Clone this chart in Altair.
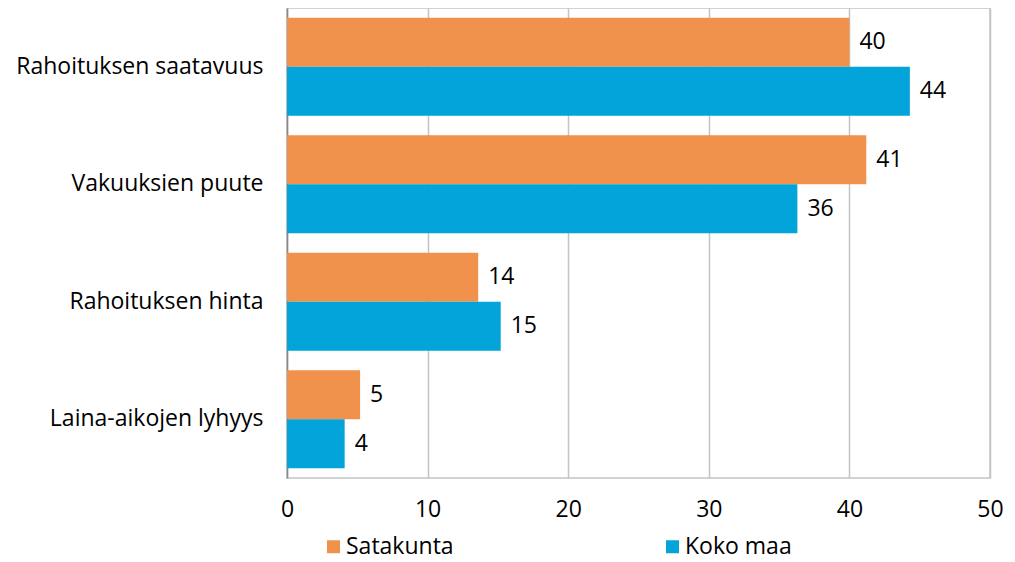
import altair as alt
import pandas as pd

categories = ["Rahoituksen saatavuus", "Vakuuksien puute", "Rahoituksen hinta", "Laina-aikojen lyhyys"]
series = ["Satakunta", "Koko maa"]
satakunta = [40.0, 41.2, 13.6, 5.2]
koko_maa = [44.3, 36.3, 15.2, 4.1]
colors = ["#F0924B", "#03A4DA"]
x_ticks = [0, 10, 20, 30, 40, 50]

rows = []
for c, a, b in zip(categories, satakunta, koko_maa):
    rows.append({"category": c, "series": series[0], "value": a})
    rows.append({"category": c, "series": series[1], "value": b})
df = pd.DataFrame(rows)

FONT = "Open Sans"
FS = 23

base = alt.Chart(df).encode(
    y=alt.Y("category:N", sort=categories, title=None,
            scale=alt.Scale(paddingInner=0.168, paddingOuter=0.084),
            axis=alt.Axis(ticks=False, labelPadding=24, labelFontSize=FS, labelFont=FONT,
                          labelColor="#000000", domainColor="#888888", domainWidth=1.5,
                          labelLimit=400)),
    yOffset=alt.YOffset("series:N", sort=series),
)

bars = base.mark_bar().encode(
    x=alt.X("value:Q", title=None,
            scale=alt.Scale(domain=[0, 50], nice=False),
            axis=alt.Axis(values=x_ticks, grid=True, gridColor="#C4C4C4", gridWidth=1.5,
                          ticks=False, domain=False, labelPadding=20, labelFontSize=FS,
                          labelFont=FONT, labelColor="#000000", labelFlush=False)),
    color=alt.Color("series:N", sort=series, title=None,
                    scale=alt.Scale(domain=series, range=colors),
                    legend=alt.Legend(orient="none", legendX=35, legendY=527,
                                      direction="horizontal", symbolType="square",
                                      symbolSize=169, symbolStrokeWidth=0,
                                      labelFontSize=FS, labelFont=FONT, labelColor="#000000",
                                      labelOffset=1, columnPadding=207)),
)

labels = base.mark_text(align="left", baseline="middle", dx=10, font=FONT,
                        fontSize=FS, color="#000000").encode(
    x=alt.X("value:Q"),
    text=alt.Text("value:Q", format=".0f"),
)

chart = (bars + labels).properties(
    width=703, height=470,
    autosize=alt.AutoSizeParams(type="none"),
    padding={"left": 279, "top": 0, "right": 17, "bottom": 84},
).configure_view(stroke="#C4C4C4", strokeWidth=1.5)

chart.save("out.html", embed_options={"renderer": "svg", "actions": False})
